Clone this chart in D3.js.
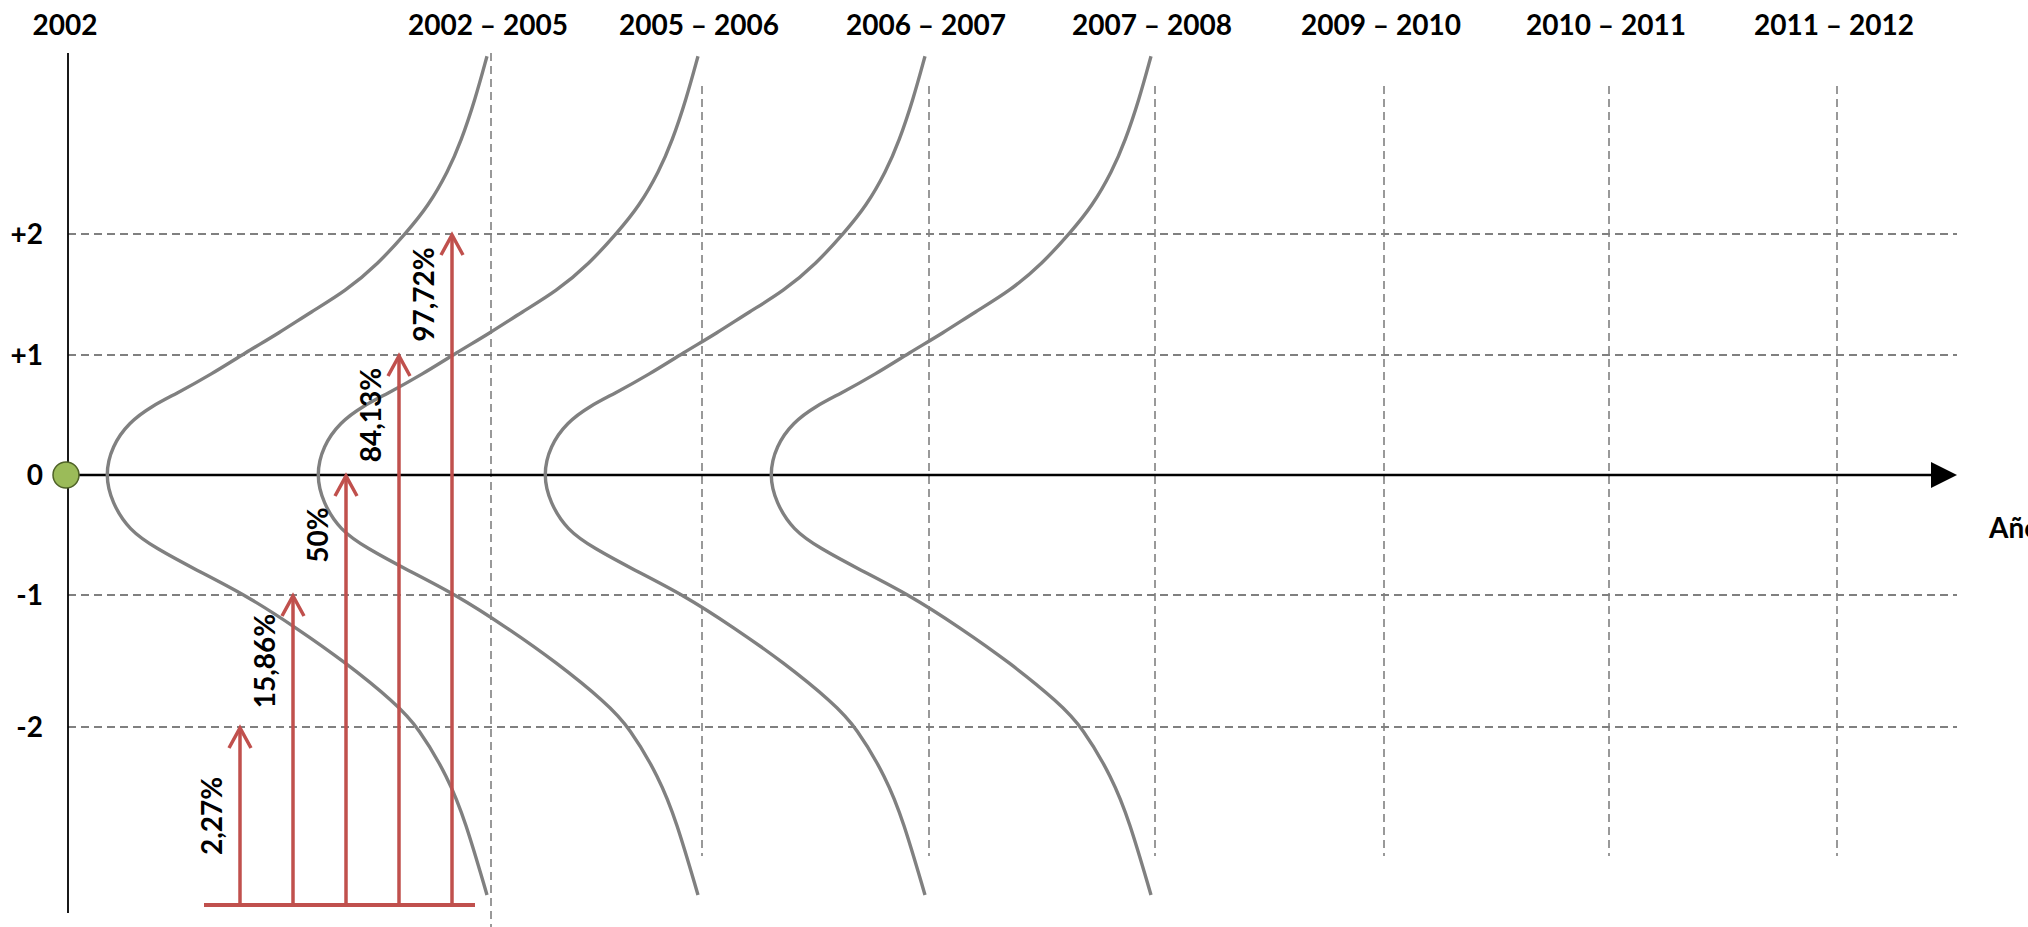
<!DOCTYPE html>
<html>
<head>
<meta charset="utf-8">
<title>Distribución normal por periodo</title>
<script src="https://d3js.org/d3.v7.min.js"></script>
<style>
body { margin: 0; background: #fff; }
svg text { font-family: Lato, "Open Sans", sans-serif; font-size: 28px; font-weight: bold; fill: #000; }
.grid { stroke: #808080; fill: none; }
</style>
</head>
<body>
<svg width="2028" height="927"></svg>
<script>
// Data
var startLabel = "2002";
var periods = ["2002 – 2005", "2005 – 2006", "2006 – 2007", "2007 – 2008", "2009 – 2010", "2010 – 2011", "2011 – 2012"];
var curvePeriods = ["2002 – 2005", "2005 – 2006", "2006 – 2007", "2007 – 2008"];
var yLevels = [2, 1, 0, -1, -2];
var yTickLabels = ["+2", "+1", "0", "-1", "-2"];
var arrowLevels = [-2, -1, 0, 1, 2];
var arrowLabels = ["2,27%", "15,86%", "50%", "84,13%", "97,72%"];
var axisTitle = "Años";
// bell curve: z (desviaciones) and share of curve width
var curveZ = [3.49, 3.13, 2.78, 2.53, 2.24, 2.02, 1.76, 1.53, 1.36, 1.18, 1.02, 0.84, 0.675, 0.575, 0.44, 0.24, 0,
    -0.23, -0.46, -0.61, -0.79, -1.0, -1.27, -1.56, -1.9, -2.1, -2.52, -2.88, -3.5];
var curveW = [1.0, 0.969, 0.932, 0.898, 0.846, 0.789, 0.715, 0.629, 0.540, 0.454, 0.368, 0.279, 0.185, 0.123, 0.063, 0.018, 0,
    0.018, 0.063, 0.133, 0.238, 0.368, 0.499, 0.629, 0.760, 0.820, 0.898, 0.943, 1.0];

var svg = d3.select('svg');
var gridRight = 1957, arrowBase = 1931, baseY = 905;

// Scales (x: start point + periods, the chart is not evenly spaced)
var x = d3.scaleOrdinal()
    .domain([startLabel].concat(periods))
    .range([68, 491, 702, 929, 1155, 1384, 1609, 1837]);
var axisX = x(startLabel);
var y = d3.scaleLinear().domain([-2, -1, 0, 1, 2]).range([727, 595, 475, 355, 234]);
var yc = d3.scaleLinear().domain([-3.5, 3.5]).range([895, 55]);
var w = d3.scaleLinear().domain([0, 1]).range([0, 382]);
var xa = d3.scalePoint().domain(arrowLabels).range([240, 452]);

// horizontal grid lines
svg.append('g').selectAll('line')
    .data(yLevels.filter(function(d) { return d !== 0; }))
    .enter().append('line')
    .attr('class', 'grid')
    .attr('x1', axisX).attr('x2', gridRight)
    .attr('y1', function(d) { return y(d); })
    .attr('y2', function(d) { return y(d); })
    .style('stroke-width', 2)
    .style('stroke-dasharray', '8,5');

// vertical dashed lines per period
svg.append('g').selectAll('line')
    .data(periods)
    .enter().append('line')
    .attr('class', 'grid')
    .attr('x1', function(d) { return x(d); })
    .attr('x2', function(d) { return x(d); })
    .attr('y1', function(d, i) { return i === 0 ? 53 : 86; })
    .attr('y2', function(d, i) { return i === 0 ? 927 : 856; })
    .style('stroke-width', 1.6)
    .style('stroke-dasharray', '8,5');

// axes
svg.append('line')
    .attr('x1', axisX).attr('x2', axisX)
    .attr('y1', 53).attr('y2', 913)
    .style('stroke', '#000').style('stroke-width', 1.8);
svg.append('line')
    .attr('x1', axisX).attr('x2', arrowBase)
    .attr('y1', y(0)).attr('y2', y(0))
    .style('stroke', '#000').style('stroke-width', 2.6);
svg.append('path')
    .attr('d', 'M' + gridRight + ',' + y(0) + 'L' + arrowBase + ',' + (y(0) - 13) + 'L' + arrowBase + ',' + (y(0) + 13) + 'Z')
    .style('fill', '#000');

// bell curves (basis spline smooths out the reading noise)
var bell = d3.line()
    .x(function(d) { return w(d[1]); })
    .y(function(d) { return yc(d[0]); })
    .curve(d3.curveBasis);
var pts = curveZ.map(function(z, i) { return [z, curveW[i]]; });

svg.append('g').selectAll('path')
    .data(curvePeriods)
    .enter().append('path')
    .attr('transform', function(d) { return 'translate(' + (x(d) - w(1) - 4) + ',0)'; })
    .attr('d', bell(pts))
    .style('fill', 'none')
    .style('stroke', '#808080')
    .style('stroke-width', 3.4);

// red arrows
var red = '#C0504D';
svg.append('line')
    .attr('x1', xa(arrowLabels[0]) - 36).attr('x2', xa(arrowLabels[4]) + 23)
    .attr('y1', baseY).attr('y2', baseY)
    .style('stroke', red).style('stroke-width', 4);

var arrows = svg.append('g').selectAll('g')
    .data(arrowLabels)
    .enter().append('g');
arrows.append('line')
    .attr('x1', function(d) { return xa(d); })
    .attr('x2', function(d) { return xa(d); })
    .attr('y1', baseY)
    .attr('y2', function(d, i) { return y(arrowLevels[i]) + 1; })
    .style('stroke', red).style('stroke-width', 3.5);
arrows.append('path')
    .attr('d', function(d, i) {
        var ax = xa(d), ty = y(arrowLevels[i]) + 1;
        return 'M' + (ax - 11) + ',' + (ty + 20) + 'L' + ax + ',' + ty + 'L' + (ax + 11) + ',' + (ty + 20);
    })
    .style('fill', 'none').style('stroke', red).style('stroke-width', 3.5);
arrows.append('text')
    .attr('transform', function(d, i) {
        var lv = arrowLevels[i];
        var lower = i === 0 ? baseY : y(lv - 1);
        var cy = (y(lv) + lower) / 2;
        return 'translate(' + (xa(d) - 28) + ',' + cy + ') rotate(-90)';
    })
    .attr('text-anchor', 'middle')
    .attr('dy', '0.36em')
    .text(function(d) { return d; });

// origin dot
svg.append('circle')
    .attr('cx', axisX - 2).attr('cy', y(0)).attr('r', 13)
    .style('fill', '#9BBB59').style('stroke', '#4F6228').style('stroke-width', 1.5);

// labels
svg.append('g').selectAll('text')
    .data(yLevels)
    .enter().append('text')
    .attr('x', 43)
    .attr('y', function(d) { return y(d); })
    .attr('dy', '0.36em')
    .attr('text-anchor', 'end')
    .text(function(d, i) { return yTickLabels[i]; });

svg.append('g').selectAll('text')
    .data([startLabel].concat(periods))
    .enter().append('text')
    .attr('x', function(d) { return x(d) - 3; })
    .attr('y', 35)
    .attr('text-anchor', 'middle')
    .text(function(d) { return d; });

svg.append('text')
    .attr('x', 1989).attr('y', 528)
    .attr('dy', '0.36em')
    .text(axisTitle);
</script>
</body>
</html>
